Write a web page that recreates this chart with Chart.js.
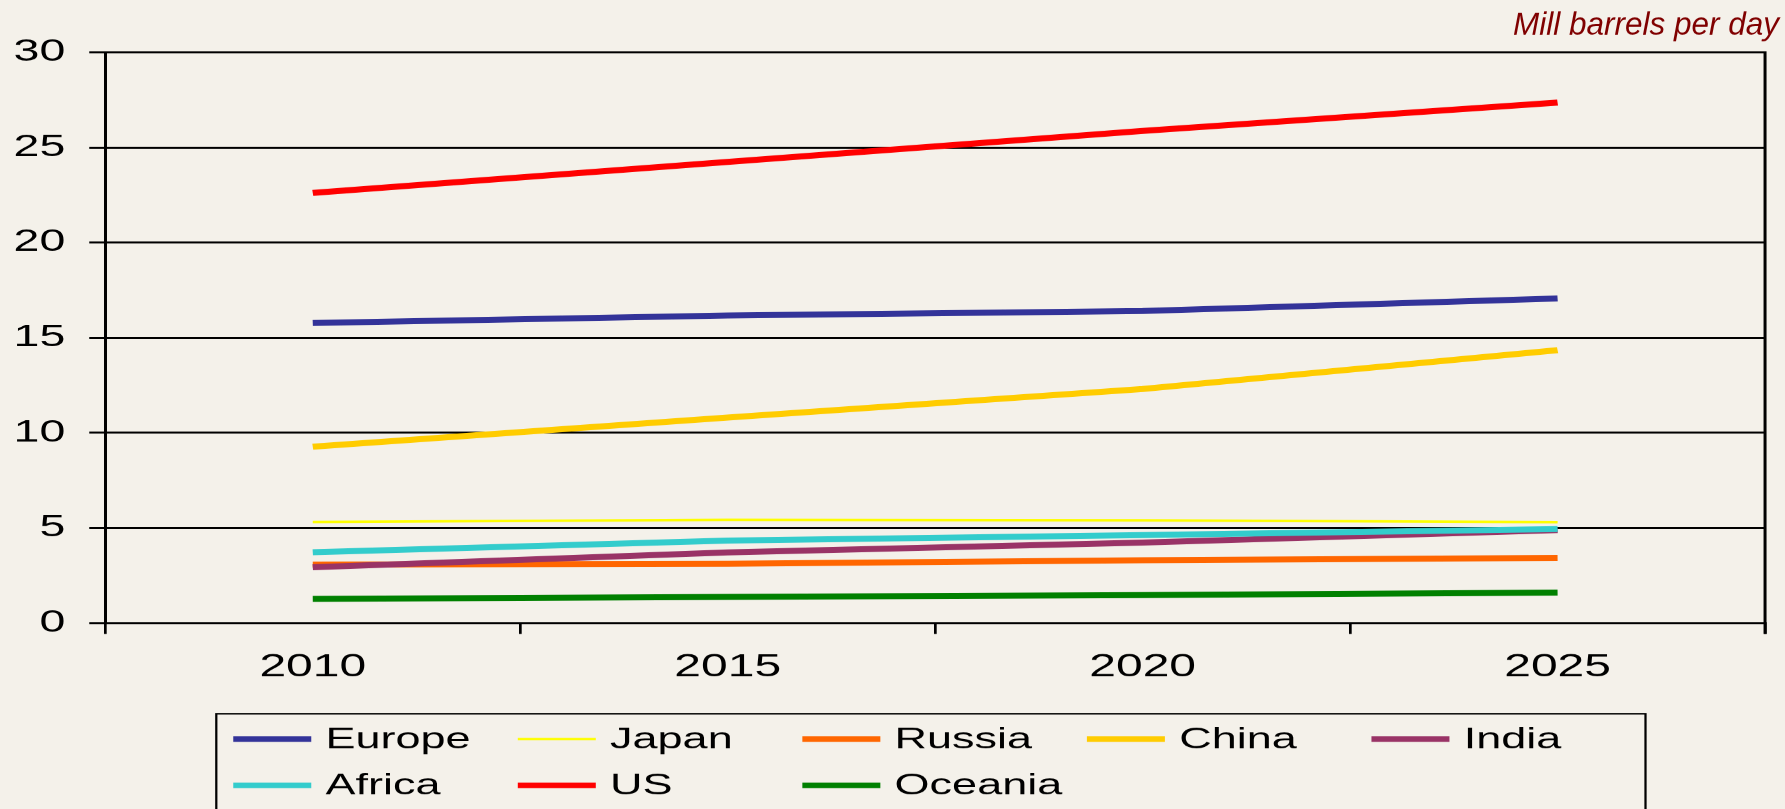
<!DOCTYPE html>
<html><head><meta charset="utf-8">
<script src="https://cdn.jsdelivr.net/npm/chart.js@4.4.1/dist/chart.umd.min.js"></script>
<style>
html,body{margin:0;padding:0;background:#F4F1EA;overflow:hidden;width:1785px;height:809px;}
#wrap{position:absolute;left:0;top:0;width:1190px;height:809px;transform:scaleX(1.5);transform-origin:0 0;}
canvas{display:block;}
</style></head><body>
<div id="wrap"><canvas id="c" width="1190" height="809" style="width:1190px;height:809px"></canvas></div>
<script>
// ---- data ----
const years = ['2010', '2015', '2020', '2025'];
const seriesNames = ['Europe', 'Japan', 'Russia', 'China', 'India', 'Africa', 'US', 'Oceania'];
const europe  = [15.77, 16.17, 16.40, 17.06];
const japan   = [5.31, 5.42, 5.40, 5.30];
const russia  = [3.07, 3.11, 3.30, 3.42];
const china   = [9.27, 10.80, 12.30, 14.34];
const india   = [2.93, 3.71, 4.23, 4.88];
const africa  = [3.72, 4.33, 4.62, 4.94];
const us      = [22.61, 24.24, 25.87, 27.36];
const oceania = [1.26, 1.37, 1.47, 1.60];
const yTicks  = [0, 5, 10, 15, 20, 25, 30];
const unitLabel = 'Mill barrels per day';

// ---- styles ----
const SX = 1.5;               // horizontal stretch of the original picture
const FONT = "'Liberation Sans', Arial, sans-serif";
const BG = '#F4F1EA';
const colors = ['#333399', '#FFFF00', '#FF6600', '#FFCC00', '#993366', '#33CCCC', '#FF0000', '#008000'];
const widths = [6, 2.5, 6, 6, 6, 6, 6, 6];
const values = [europe, japan, russia, china, india, africa, us, oceania];

const datasets = seriesNames.map((name, i) => ({
  label: name,
  data: values[i],
  borderColor: colors[i],
  backgroundColor: colors[i],
  borderWidth: widths[i],
  pointRadius: 0,
  tension: 0,
  fill: false,
  borderCapStyle: 'butt',
  order: -i
}));

const framePlugin = {
  id: 'frame',
  beforeDraw(chart) {
    const ctx = chart.ctx;
    ctx.save();
    ctx.fillStyle = BG;
    ctx.fillRect(0, 0, chart.width, chart.height);
    ctx.restore();
  },
  afterDraw(chart) {
    const ctx = chart.ctx;
    const a = chart.chartArea;
    ctx.save();
    // right border of plot
    ctx.strokeStyle = '#000';
    ctx.lineWidth = 2;
    ctx.beginPath();
    ctx.moveTo(a.right, a.top - 1);
    ctx.lineTo(a.right, a.bottom + 11);
    ctx.stroke();

    // unit label (not stretched in the original)
    ctx.save();
    ctx.scale(1 / SX, 1);
    ctx.font = 'italic 31.5px ' + FONT;
    ctx.fillStyle = '#800000';
    ctx.textAlign = 'right';
    ctx.textBaseline = 'middle';
    ctx.fillText(unitLabel, 1779, 26);
    ctx.restore();

    // legend box
    const boxL = 144.2, boxR = 1097, boxT = 713.5;
    ctx.strokeStyle = '#000';
    ctx.lineWidth = 1.5;
    ctx.strokeRect(boxL, boxT, boxR - boxL, 200);
    const col0 = 155.5, colW = 189.7, sampleLen = 52, textGap = 9.5;
    const row0 = 738.7, rowH = 46.3;
    ctx.font = '30px ' + FONT;
    ctx.fillStyle = '#000';
    ctx.textAlign = 'left';
    ctx.textBaseline = 'middle';
    chart.data.datasets.forEach((ds, i) => {
      const c = i % 5, r = Math.floor(i / 5);
      const x = col0 + c * colW;
      const y = row0 + r * rowH;
      ctx.strokeStyle = ds.borderColor;
      ctx.lineWidth = Math.min(ds.borderWidth, 5.5);
      ctx.lineCap = 'butt';
      ctx.beginPath();
      ctx.moveTo(x, y);
      ctx.lineTo(x + sampleLen, y);
      ctx.stroke();
      ctx.fillStyle = '#000';
      ctx.fillText(ds.label, x + sampleLen + textGap, y + 1);
    });
    ctx.restore();
  }
};

new Chart(document.getElementById('c'), {
  type: 'line',
  data: { labels: years, datasets },
  plugins: [framePlugin],
  options: {
    responsive: false,
    animation: false,
    devicePixelRatio: SX,
    layout: { padding: { left: 0, right: 13.3, top: 52.3, bottom: 0 } },
    plugins: { legend: { display: false }, title: { display: false }, tooltip: { enabled: false } },
    scales: {
      x: {
        type: 'category',
        offset: true,
        grid: { offset: true, drawOnChartArea: false, drawTicks: true, tickLength: 11, color: '#000', lineWidth: 1.8 },
        border: { display: true, color: '#000', width: 2 },
        ticks: { color: '#000', font: { family: FONT, size: 32 }, padding: 14, maxRotation: 0 },
        afterFit(scale) { scale.height = 186.3; }
      },
      y: {
        min: 0, max: 30,
        afterBuildTicks(scale) { scale.ticks = yTicks.map(v => ({ value: v })); },
        grid: { color: '#000', lineWidth: 2, drawTicks: true, tickLength: 10.7 },
        border: { display: true, color: '#000', width: 2 },
        ticks: { color: '#000', font: { family: FONT, size: 31 }, padding: 16 },
        afterFit(scale) { scale.width = 70.2; }
      }
    }
  }
});
</script>
</body></html>
